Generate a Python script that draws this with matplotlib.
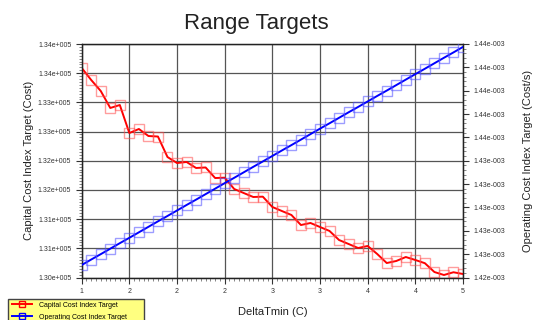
import matplotlib
matplotlib.use("Agg")
import matplotlib.pyplot as plt
from matplotlib.ticker import FixedLocator, AutoMinorLocator
from matplotlib.lines import Line2D

plt.rcParams['font.family'] = ['Liberation Sans', 'DejaVu Sans']

# ---- data ----
delta_tmin = [1.0, 1.1, 1.2, 1.3, 1.4, 1.5, 1.6, 1.7, 1.8, 1.9,
              2.0, 2.1, 2.2, 2.3, 2.4, 2.5, 2.6, 2.7, 2.8, 2.9,
              3.0, 3.1, 3.2, 3.3, 3.4, 3.5, 3.6, 3.7, 3.8, 3.9,
              4.0, 4.1, 4.2, 4.3, 4.4, 4.5, 4.6, 4.7, 4.8, 4.9, 5.0]

capital_cost = [133990, 133783, 133595, 133304, 133355, 132875, 132944, 132824, 132815, 132464,
                132361, 132379, 132276, 132285, 132104, 132110, 131916, 131847, 131779, 131785,
                131608, 131539, 131471, 131299, 131334, 131265, 131197, 131042, 130974, 130905,
                130940, 130803, 130648, 130683, 130751, 130700, 130645, 130494, 130443, 130490,
                130460]

operating_cost = [1.42457e-3, 1.42504e-3, 1.42550e-3, 1.42597e-3, 1.42644e-3, 1.42690e-3,
                  1.42737e-3, 1.42784e-3, 1.42831e-3, 1.42877e-3, 1.42924e-3, 1.42971e-3,
                  1.43017e-3, 1.43064e-3, 1.43111e-3, 1.43158e-3, 1.43204e-3, 1.43251e-3,
                  1.43298e-3, 1.43344e-3, 1.43391e-3, 1.43438e-3, 1.43484e-3, 1.43531e-3,
                  1.43578e-3, 1.43625e-3, 1.43671e-3, 1.43718e-3, 1.43765e-3, 1.43811e-3,
                  1.43858e-3, 1.43905e-3, 1.43951e-3, 1.43998e-3, 1.44045e-3, 1.44092e-3,
                  1.44138e-3, 1.44185e-3, 1.44232e-3, 1.44278e-3, 1.44325e-3]

x_ticks = [1.0, 1.5, 2.0, 2.5, 3.0, 3.5, 4.0, 4.5, 5.0]
x_tick_labels = ["1", "2", "2", "2", "3", "3", "4", "4", "5"]

left_ticks = [130400, 130900, 131400, 131900, 132400, 132900, 133400, 133900, 134400]
left_tick_labels = ["1.30e+005", "1.31e+005", "1.31e+005", "1.32e+005", "1.32e+005",
                    "1.33e+005", "1.33e+005", "1.34e+005", "1.34e+005"]

right_ticks = [1.4235e-3, 1.4255e-3, 1.4275e-3, 1.4295e-3, 1.4315e-3, 1.4335e-3,
               1.4355e-3, 1.4375e-3, 1.4395e-3, 1.4415e-3, 1.4435e-3]
right_tick_labels = ["1.42e-003", "1.43e-003", "1.43e-003", "1.43e-003", "1.43e-003",
                     "1.43e-003", "1.44e-003", "1.44e-003", "1.44e-003", "1.44e-003",
                     "1.44e-003"]

series_names = ["Capital Cost Index Target", "Operating Cost Index Target"]

# ---- figure ----
fig = plt.figure(figsize=(5.36, 3.2), dpi=100)
ax = fig.add_axes([0.1524, 0.1328, 0.8638 - 0.1524, 0.8625 - 0.1328])
ax2 = ax.twinx()

red = "#ff0000"
blue = "#0000ff"
ax.plot(delta_tmin, capital_cost, color=red, lw=1.4, marker="s", ms=6.5,
        mfc="none", mec=(1, 0.3, 0.3, 0.55), mew=1.0, zorder=3)
ax2.plot(delta_tmin, operating_cost, color=blue, lw=1.4, marker="s", ms=6.5,
         mfc="none", mec=(0.3, 0.3, 1, 0.55), mew=1.0, zorder=3)

ax.set_xlim(1.0, 5.0)
ax.set_ylim(left_ticks[0], left_ticks[-1])
ax2.set_ylim(right_ticks[0], right_ticks[-1])

ax.xaxis.set_major_locator(FixedLocator(x_ticks))
ax.set_xticklabels(x_tick_labels)
ax.xaxis.set_minor_locator(AutoMinorLocator(10))
ax.yaxis.set_major_locator(FixedLocator(left_ticks))
ax.set_yticklabels(left_tick_labels)
ax.yaxis.set_minor_locator(AutoMinorLocator(10))
ax2.yaxis.set_major_locator(FixedLocator(right_ticks))
ax2.set_yticklabels(right_tick_labels)
ax2.yaxis.set_minor_locator(AutoMinorLocator(5))

ax.grid(True, which="major", color="#555555", lw=0.9)
ax.set_axisbelow(True)

for a in (ax, ax2):
    a.tick_params(which="major", length=4, width=0.8, labelsize=5, colors="#333333")
    a.tick_params(which="minor", length=2, width=0.5, colors="#555555")
    for s in a.spines.values():
        s.set_color("#222222")
        s.set_linewidth(0.9)

ax.set_ylabel("Capital Cost Index Target (Cost)", fontsize=8, color="#222222", labelpad=3)
ax2.set_ylabel("Operating Cost Index Target (Cost/s)", fontsize=8, color="#222222", labelpad=13)
ax.set_xlabel("DeltaTmin (C)", fontsize=8, color="#222222", labelpad=9)

fig.text(0.4786, 0.925, "Range Targets", fontsize=16, ha="center", va="center", color="#222222")

handles = [Line2D([0], [0], color=red, lw=1.4, marker="s", ms=5, mfc="none", mec=red),
           Line2D([0], [0], color=blue, lw=1.4, marker="s", ms=5, mfc="none", mec=blue)]
leg = fig.legend(handles, series_names, loc="upper left",
                 bbox_to_anchor=(5 / 536, 0.0, 142 / 536, 0.078), mode="expand",
                 fontsize=5, frameon=True, fancybox=False, handlelength=3.0,
                 labelspacing=0.75, borderpad=0.45, handletextpad=1.0)
leg.get_frame().set_facecolor("#ffff80")
leg.get_frame().set_edgecolor("#444444")
leg.get_frame().set_alpha(1)

fig.savefig("out.png", dpi=100)
